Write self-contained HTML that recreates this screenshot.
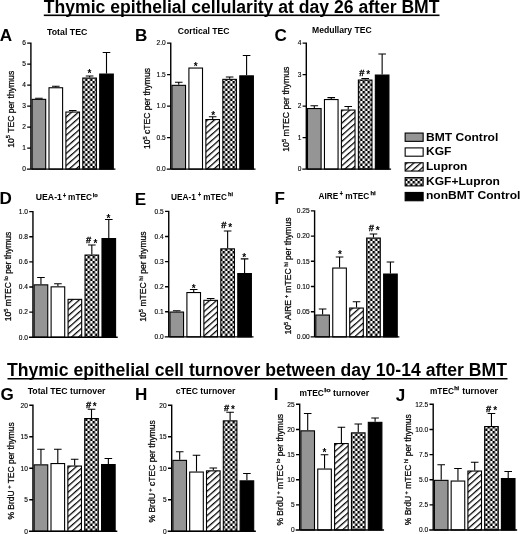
<!DOCTYPE html>
<html lang="en"><head><meta charset="utf-8"><title>Thymic epithelial cellularity and turnover after BMT</title>
<style>html,body{margin:0;padding:0;background:#fff;overflow:hidden}svg{display:block;filter:grayscale(1)}text{font-family:"Liberation Sans", sans-serif;fill:#000}</style>
</head><body>
<svg width="520" height="534" viewBox="0 0 520 534" role="img" aria-label="Bar charts of thymic epithelial cellularity and turnover after BMT">
<defs>
<pattern id="hatch" width="8" height="4.56" patternUnits="userSpaceOnUse" patternTransform="translate(0 4.2) rotate(-41.4)"><rect width="8" height="4.56" fill="#fff"/><rect y="0" width="8" height="1.25" fill="#000"/></pattern>
<pattern id="chk" x="82.5" y="101" width="5" height="5" patternUnits="userSpaceOnUse"><rect width="5" height="5" fill="#fff"/><rect width="2.5" height="2.5" fill="#000"/><rect x="2.5" y="2.5" width="2.5" height="2.5" fill="#000"/></pattern>
</defs>
<rect width="520" height="534" fill="#fff"/>
<g>
<text x="43.8" y="12.5" font-size="17.6" font-weight="bold" textLength="395.7" lengthAdjust="spacingAndGlyphs">Thymic epithelial cellularity at day 26 after BMT</text>
<rect x="43.8" y="14.5" width="395.7" height="1.6" fill="#000"/>
<text x="6.9" y="375.7" font-size="17.6" font-weight="bold" textLength="500" lengthAdjust="spacingAndGlyphs">Thymic epithelial cell turnover between day 10-14 after BMT</text>
<rect x="7.5" y="378" width="500" height="1.5" fill="#000"/>
<path d="M38.9 98.8 V98.2 M35.1 98.2 H42.7" stroke="#000" stroke-width="1.1" fill="none"/>
<rect x="32.1" y="99.35" width="13.6" height="69.75" fill="#959595" stroke="#000" stroke-width="1.1"/>
<path d="M55.8 87.2 V86.3 M52 86.3 H59.6" stroke="#000" stroke-width="1.1" fill="none"/>
<rect x="49" y="87.75" width="13.6" height="81.35" fill="#fff" stroke="#000" stroke-width="1.1"/>
<path d="M72.7 111.5 V110.5 M68.9 110.5 H76.5" stroke="#000" stroke-width="1.1" fill="none"/>
<rect x="65.9" y="112.05" width="13.6" height="57.05" fill="url(#hatch)" stroke="#000" stroke-width="1.1"/>
<path d="M89.6 77.5 V76 M85.8 76 H93.4" stroke="#000" stroke-width="1.1" fill="none"/>
<rect x="82.8" y="78.05" width="13.6" height="91.05" fill="url(#chk)" stroke="#000" stroke-width="1.1"/>
<path d="M106.5 73.5 V52.5 M102.7 52.5 H110.3" stroke="#000" stroke-width="1.1" fill="none"/>
<rect x="99.7" y="74.05" width="13.6" height="95.05" fill="#000" stroke="#000" stroke-width="1.1"/>
<path d="M30.9 42.4 V169.8 M26.9 169.1 H115.45 M27.2 169.1 H30.9 M27.2 148.1 H30.9 M27.2 127.1 H30.9 M27.2 106.1 H30.9 M27.2 85.1 H30.9 M27.2 64.1 H30.9 M27.2 43.1 H30.9" stroke="#000" stroke-width="1.4" fill="none"/>
<text x="25.9" y="171.45" font-size="6.6" text-anchor="end" stroke="#000" stroke-width="0.12">0</text>
<text x="25.9" y="150.45" font-size="6.6" text-anchor="end" stroke="#000" stroke-width="0.12">1</text>
<text x="25.9" y="129.45" font-size="6.6" text-anchor="end" stroke="#000" stroke-width="0.12">2</text>
<text x="25.9" y="108.45" font-size="6.6" text-anchor="end" stroke="#000" stroke-width="0.12">3</text>
<text x="25.9" y="87.45" font-size="6.6" text-anchor="end" stroke="#000" stroke-width="0.12">4</text>
<text x="25.9" y="66.45" font-size="6.6" text-anchor="end" stroke="#000" stroke-width="0.12">5</text>
<text x="25.9" y="45.45" font-size="6.6" text-anchor="end" stroke="#000" stroke-width="0.12">6</text>
<text x="-0.31" y="40.8" font-size="17.1" font-weight="bold">A</text>
<text x="47.07" y="35.1" font-size="8.6" font-weight="bold" textLength="40.26" lengthAdjust="spacingAndGlyphs">Total TEC</text>
<text transform="translate(13.5 147.8) rotate(-90)" font-size="9" stroke="#000" stroke-width="0.25" textLength="77" lengthAdjust="spacingAndGlyphs">10<tspan dy="-3.2" font-size="6">5</tspan><tspan dy="3.2"> TEC per thymus</tspan></text>
<text x="87.45" y="77.22" font-size="10" font-weight="bold">*</text>
<path d="M178.75 84.8 V82.3 M174.95 82.3 H182.55" stroke="#000" stroke-width="1.1" fill="none"/>
<rect x="171.95" y="85.35" width="13.6" height="83.75" fill="#959595" stroke="#000" stroke-width="1.1"/>
<rect x="188.91" y="68.05" width="13.6" height="101.05" fill="#fff" stroke="#000" stroke-width="1.1"/>
<path d="M212.67 119 V116.8 M208.87 116.8 H216.47" stroke="#000" stroke-width="1.1" fill="none"/>
<rect x="205.87" y="119.55" width="13.6" height="49.55" fill="url(#hatch)" stroke="#000" stroke-width="1.1"/>
<path d="M229.63 78.8 V77 M225.83 77 H233.43" stroke="#000" stroke-width="1.1" fill="none"/>
<rect x="222.83" y="79.35" width="13.6" height="89.75" fill="url(#chk)" stroke="#000" stroke-width="1.1"/>
<path d="M246.59 75.3 V55.5 M242.79 55.5 H250.39" stroke="#000" stroke-width="1.1" fill="none"/>
<rect x="239.79" y="75.85" width="13.6" height="93.25" fill="#000" stroke="#000" stroke-width="1.1"/>
<path d="M170.75 42.4 V169.8 M166.75 169.1 H255.54 M167.05 169.1 H170.75 M167.05 137.6 H170.75 M167.05 106.1 H170.75 M167.05 74.6 H170.75 M167.05 43.1 H170.75" stroke="#000" stroke-width="1.4" fill="none"/>
<text x="165.75" y="171.45" font-size="6.6" text-anchor="end" stroke="#000" stroke-width="0.12">0.0</text>
<text x="165.75" y="139.95" font-size="6.6" text-anchor="end" stroke="#000" stroke-width="0.12">0.5</text>
<text x="165.75" y="108.45" font-size="6.6" text-anchor="end" stroke="#000" stroke-width="0.12">1.0</text>
<text x="165.75" y="76.95" font-size="6.6" text-anchor="end" stroke="#000" stroke-width="0.12">1.5</text>
<text x="165.75" y="45.45" font-size="6.6" text-anchor="end" stroke="#000" stroke-width="0.12">2.0</text>
<text x="135.07" y="41" font-size="17.1" font-weight="bold">B</text>
<text x="177.87" y="33.9" font-size="8.6" font-weight="bold" textLength="51.56" lengthAdjust="spacingAndGlyphs">Cortical TEC</text>
<text transform="translate(150.2 148.9) rotate(-90)" font-size="9" stroke="#000" stroke-width="0.25" textLength="80.8" lengthAdjust="spacingAndGlyphs">10<tspan dy="-3.2" font-size="6">5</tspan><tspan dy="3.2"> cTEC per thymus</tspan></text>
<text x="193.8" y="69.92" font-size="10" font-weight="bold">*</text>
<text x="211.25" y="118.72" font-size="10" font-weight="bold">*</text>
<path d="M314.3 108 V105.8 M310.5 105.8 H318.1" stroke="#000" stroke-width="1.1" fill="none"/>
<rect x="307.5" y="108.55" width="13.6" height="60.55" fill="#959595" stroke="#000" stroke-width="1.1"/>
<path d="M331.26 99 V97.6 M327.46 97.6 H335.06" stroke="#000" stroke-width="1.1" fill="none"/>
<rect x="324.46" y="99.55" width="13.6" height="69.55" fill="#fff" stroke="#000" stroke-width="1.1"/>
<path d="M348.22 109.5 V106.5 M344.42 106.5 H352.02" stroke="#000" stroke-width="1.1" fill="none"/>
<rect x="341.42" y="110.05" width="13.6" height="59.05" fill="url(#hatch)" stroke="#000" stroke-width="1.1"/>
<path d="M365.18 79.5 V78.5 M361.38 78.5 H368.98" stroke="#000" stroke-width="1.1" fill="none"/>
<rect x="358.38" y="80.05" width="13.6" height="89.05" fill="url(#chk)" stroke="#000" stroke-width="1.1"/>
<path d="M382.14 74.5 V54 M378.34 54 H385.94" stroke="#000" stroke-width="1.1" fill="none"/>
<rect x="375.34" y="75.05" width="13.6" height="94.05" fill="#000" stroke="#000" stroke-width="1.1"/>
<path d="M306.3 42.4 V169.8 M302.3 169.1 H391.09 M302.6 169.1 H306.3 M302.6 137.6 H306.3 M302.6 106.1 H306.3 M302.6 74.6 H306.3 M302.6 43.1 H306.3" stroke="#000" stroke-width="1.4" fill="none"/>
<text x="301.3" y="171.45" font-size="6.6" text-anchor="end" stroke="#000" stroke-width="0.12">0</text>
<text x="301.3" y="139.95" font-size="6.6" text-anchor="end" stroke="#000" stroke-width="0.12">1</text>
<text x="301.3" y="108.45" font-size="6.6" text-anchor="end" stroke="#000" stroke-width="0.12">2</text>
<text x="301.3" y="76.95" font-size="6.6" text-anchor="end" stroke="#000" stroke-width="0.12">3</text>
<text x="301.3" y="45.45" font-size="6.6" text-anchor="end" stroke="#000" stroke-width="0.12">4</text>
<text x="274.6" y="40.7" font-size="17.1" font-weight="bold">C</text>
<text x="311.97" y="33.2" font-size="8.6" font-weight="bold" textLength="59.76" lengthAdjust="spacingAndGlyphs">Medullary TEC</text>
<text transform="translate(289.3 151.7) rotate(-90)" font-size="9" stroke="#000" stroke-width="0.25" textLength="85" lengthAdjust="spacingAndGlyphs">10<tspan dy="-3.2" font-size="6">5</tspan><tspan dy="3.2"> mTEC per thymus</tspan></text>
<text x="359.33" y="75.6" font-size="9.4" font-weight="bold" stroke="#000" stroke-width="0.3">#</text>
<text x="366.25" y="78.12" font-size="10" font-weight="bold">*</text>
<path d="M40.95 284.3 V277.5 M37.15 277.5 H44.75" stroke="#000" stroke-width="1.1" fill="none"/>
<rect x="34.15" y="284.85" width="13.6" height="52.35" fill="#959595" stroke="#000" stroke-width="1.1"/>
<path d="M57.91 286.3 V283.8 M54.11 283.8 H61.71" stroke="#000" stroke-width="1.1" fill="none"/>
<rect x="51.11" y="286.85" width="13.6" height="50.35" fill="#fff" stroke="#000" stroke-width="1.1"/>
<rect x="68.07" y="299.35" width="13.6" height="37.85" fill="url(#hatch)" stroke="#000" stroke-width="1.1"/>
<path d="M91.83 254.5 V245 M88.03 245 H95.63" stroke="#000" stroke-width="1.1" fill="none"/>
<rect x="85.03" y="255.05" width="13.6" height="82.15" fill="url(#chk)" stroke="#000" stroke-width="1.1"/>
<path d="M108.79 238 V219.5 M104.99 219.5 H112.59" stroke="#000" stroke-width="1.1" fill="none"/>
<rect x="101.99" y="238.55" width="13.6" height="98.65" fill="#000" stroke="#000" stroke-width="1.1"/>
<path d="M32.95 210.9 V337.9 M28.95 337.2 H117.74 M29.25 337.2 H32.95 M29.25 312.08 H32.95 M29.25 286.96 H32.95 M29.25 261.84 H32.95 M29.25 236.72 H32.95 M29.25 211.6 H32.95" stroke="#000" stroke-width="1.4" fill="none"/>
<text x="27.95" y="339.55" font-size="6.6" text-anchor="end" stroke="#000" stroke-width="0.12">0.0</text>
<text x="27.95" y="314.43" font-size="6.6" text-anchor="end" stroke="#000" stroke-width="0.12">0.2</text>
<text x="27.95" y="289.31" font-size="6.6" text-anchor="end" stroke="#000" stroke-width="0.12">0.4</text>
<text x="27.95" y="264.19" font-size="6.6" text-anchor="end" stroke="#000" stroke-width="0.12">0.6</text>
<text x="27.95" y="239.07" font-size="6.6" text-anchor="end" stroke="#000" stroke-width="0.12">0.8</text>
<text x="27.95" y="213.95" font-size="6.6" text-anchor="end" stroke="#000" stroke-width="0.12">1.0</text>
<text x="-0.43" y="203.9" font-size="17.1" font-weight="bold">D</text>
<text x="35.77" y="200.3" font-size="8.6" font-weight="bold" textLength="26.16" lengthAdjust="spacingAndGlyphs">UEA-1</text>
<text x="63.08" y="197.7" font-size="6.4" font-weight="bold" stroke="#000" stroke-width="0.25" textLength="3.04" lengthAdjust="spacingAndGlyphs">+</text>
<text x="68.07" y="200.3" font-size="8.6" font-weight="bold" textLength="23.86" lengthAdjust="spacingAndGlyphs">mTEC</text>
<text x="92.69" y="196.5" font-size="6.2" font-weight="bold" stroke="#000" stroke-width="0.25" textLength="5.02" lengthAdjust="spacingAndGlyphs">lo</text>
<text transform="translate(10.7 321.2) rotate(-90)" font-size="9" stroke="#000" stroke-width="0.25" textLength="89.4" lengthAdjust="spacingAndGlyphs">10<tspan dy="-3.2" font-size="6">5</tspan><tspan dy="3.2"> mTEC</tspan><tspan dy="-3.2" font-size="6"> lo</tspan><tspan dy="3.2"> per thymus</tspan></text>
<text x="86.08" y="243.2" font-size="9.4" font-weight="bold" stroke="#000" stroke-width="0.3">#</text>
<text x="93.45" y="246.72" font-size="10" font-weight="bold">*</text>
<text x="106.55" y="222.22" font-size="10" font-weight="bold">*</text>
<path d="M176.75 311.5 V310.8 M172.95 310.8 H180.55" stroke="#000" stroke-width="1.1" fill="none"/>
<rect x="169.95" y="312.05" width="13.6" height="24.85" fill="#959595" stroke="#000" stroke-width="1.1"/>
<path d="M193.71 292 V289.5 M189.91 289.5 H197.51" stroke="#000" stroke-width="1.1" fill="none"/>
<rect x="186.91" y="292.55" width="13.6" height="44.35" fill="#fff" stroke="#000" stroke-width="1.1"/>
<path d="M210.67 299.8 V298.5 M206.87 298.5 H214.47" stroke="#000" stroke-width="1.1" fill="none"/>
<rect x="203.87" y="300.35" width="13.6" height="36.55" fill="url(#hatch)" stroke="#000" stroke-width="1.1"/>
<path d="M227.63 248.3 V231 M223.83 231 H231.43" stroke="#000" stroke-width="1.1" fill="none"/>
<rect x="220.83" y="248.85" width="13.6" height="88.05" fill="url(#chk)" stroke="#000" stroke-width="1.1"/>
<path d="M244.59 273 V258.9 M240.79 258.9 H248.39" stroke="#000" stroke-width="1.1" fill="none"/>
<rect x="237.79" y="273.55" width="13.6" height="63.35" fill="#000" stroke="#000" stroke-width="1.1"/>
<path d="M168.75 210.7 V337.6 M164.75 336.9 H253.54 M165.05 336.9 H168.75 M165.05 311.8 H168.75 M165.05 286.7 H168.75 M165.05 261.6 H168.75 M165.05 236.5 H168.75 M165.05 211.4 H168.75" stroke="#000" stroke-width="1.4" fill="none"/>
<text x="163.75" y="339.25" font-size="6.6" text-anchor="end" stroke="#000" stroke-width="0.12">0.0</text>
<text x="163.75" y="314.15" font-size="6.6" text-anchor="end" stroke="#000" stroke-width="0.12">0.1</text>
<text x="163.75" y="289.05" font-size="6.6" text-anchor="end" stroke="#000" stroke-width="0.12">0.2</text>
<text x="163.75" y="263.95" font-size="6.6" text-anchor="end" stroke="#000" stroke-width="0.12">0.3</text>
<text x="163.75" y="238.85" font-size="6.6" text-anchor="end" stroke="#000" stroke-width="0.12">0.4</text>
<text x="163.75" y="213.75" font-size="6.6" text-anchor="end" stroke="#000" stroke-width="0.12">0.5</text>
<text x="134.67" y="204.9" font-size="17.1" font-weight="bold">E</text>
<text x="171.07" y="199.5" font-size="8.6" font-weight="bold" textLength="24.86" lengthAdjust="spacingAndGlyphs">UEA-1</text>
<text x="198.08" y="196.9" font-size="6.4" font-weight="bold" stroke="#000" stroke-width="0.25" textLength="3.04" lengthAdjust="spacingAndGlyphs">+</text>
<text x="203.37" y="199.5" font-size="8.6" font-weight="bold" textLength="23.56" lengthAdjust="spacingAndGlyphs">mTEC</text>
<text x="228.09" y="195.7" font-size="6.2" font-weight="bold" stroke="#000" stroke-width="0.25" textLength="4.92" lengthAdjust="spacingAndGlyphs">hi</text>
<text transform="translate(146.4 321.7) rotate(-90)" font-size="9" stroke="#000" stroke-width="0.25" textLength="90.3" lengthAdjust="spacingAndGlyphs">10<tspan dy="-3.2" font-size="6">5</tspan><tspan dy="3.2"> mTEC</tspan><tspan dy="-3.2" font-size="6"> hi</tspan><tspan dy="3.2"> per thymus</tspan></text>
<text x="191.85" y="291.62" font-size="10" font-weight="bold">*</text>
<text x="221.18" y="228" font-size="9.4" font-weight="bold" stroke="#000" stroke-width="0.3">#</text>
<text x="228.25" y="230.82" font-size="10" font-weight="bold">*</text>
<text x="242.35" y="261.12" font-size="10" font-weight="bold">*</text>
<path d="M322.6 314.5 V309 M318.8 309 H326.4" stroke="#000" stroke-width="1.1" fill="none"/>
<rect x="315.8" y="315.05" width="13.6" height="21.85" fill="#959595" stroke="#000" stroke-width="1.1"/>
<path d="M339.56 267.5 V257 M335.76 257 H343.36" stroke="#000" stroke-width="1.1" fill="none"/>
<rect x="332.76" y="268.05" width="13.6" height="68.85" fill="#fff" stroke="#000" stroke-width="1.1"/>
<path d="M356.52 307.5 V301.8 M352.72 301.8 H360.32" stroke="#000" stroke-width="1.1" fill="none"/>
<rect x="349.72" y="308.05" width="13.6" height="28.85" fill="url(#hatch)" stroke="#000" stroke-width="1.1"/>
<path d="M373.48 237.5 V234 M369.68 234 H377.28" stroke="#000" stroke-width="1.1" fill="none"/>
<rect x="366.68" y="238.05" width="13.6" height="98.85" fill="url(#chk)" stroke="#000" stroke-width="1.1"/>
<path d="M390.44 273.5 V262 M386.64 262 H394.24" stroke="#000" stroke-width="1.1" fill="none"/>
<rect x="383.64" y="274.05" width="13.6" height="62.85" fill="#000" stroke="#000" stroke-width="1.1"/>
<path d="M314.6 210.2 V337.6 M310.6 336.9 H399.39 M310.9 336.9 H314.6 M310.9 311.7 H314.6 M310.9 286.5 H314.6 M310.9 261.3 H314.6 M310.9 236.1 H314.6 M310.9 210.9 H314.6" stroke="#000" stroke-width="1.4" fill="none"/>
<text x="309.6" y="339.25" font-size="6.6" text-anchor="end" stroke="#000" stroke-width="0.12">0.00</text>
<text x="309.6" y="314.05" font-size="6.6" text-anchor="end" stroke="#000" stroke-width="0.12">0.05</text>
<text x="309.6" y="288.85" font-size="6.6" text-anchor="end" stroke="#000" stroke-width="0.12">0.10</text>
<text x="309.6" y="263.65" font-size="6.6" text-anchor="end" stroke="#000" stroke-width="0.12">0.15</text>
<text x="309.6" y="238.45" font-size="6.6" text-anchor="end" stroke="#000" stroke-width="0.12">0.20</text>
<text x="309.6" y="213.25" font-size="6.6" text-anchor="end" stroke="#000" stroke-width="0.12">0.25</text>
<text x="274.57" y="203.6" font-size="17.1" font-weight="bold">F</text>
<text x="318.47" y="198.6" font-size="8.6" font-weight="bold" textLength="19.66" lengthAdjust="spacingAndGlyphs">AIRE</text>
<text x="339.78" y="196" font-size="6.4" font-weight="bold" stroke="#000" stroke-width="0.25" textLength="3.04" lengthAdjust="spacingAndGlyphs">+</text>
<text x="345.27" y="198.6" font-size="8.6" font-weight="bold" textLength="23.96" lengthAdjust="spacingAndGlyphs">mTEC</text>
<text x="370.49" y="194.8" font-size="6.2" font-weight="bold" stroke="#000" stroke-width="0.25" textLength="5.22" lengthAdjust="spacingAndGlyphs">hi</text>
<text transform="translate(291.3 334.6) rotate(-90)" font-size="9" stroke="#000" stroke-width="0.25" textLength="117.1" lengthAdjust="spacingAndGlyphs">10<tspan dy="-3.2" font-size="6">5</tspan><tspan dy="3.2"> AIRE</tspan><tspan dy="-3.2" font-size="6"> +</tspan><tspan dy="3.2"> mTEC</tspan><tspan dy="-3.2" font-size="6"> hi</tspan><tspan dy="3.2"> per thymus</tspan></text>
<text x="337.95" y="258.42" font-size="10" font-weight="bold">*</text>
<text x="368.68" y="231.3" font-size="9.4" font-weight="bold" stroke="#000" stroke-width="0.3">#</text>
<text x="375.65" y="234.12" font-size="10" font-weight="bold">*</text>
<path d="M40.95 464.3 V449.3 M37.15 449.3 H44.75" stroke="#000" stroke-width="1.1" fill="none"/>
<rect x="34.15" y="464.85" width="13.6" height="66.45" fill="#959595" stroke="#000" stroke-width="1.1"/>
<path d="M57.8 463 V449.3 M54 449.3 H61.6" stroke="#000" stroke-width="1.1" fill="none"/>
<rect x="51" y="463.55" width="13.6" height="67.75" fill="#fff" stroke="#000" stroke-width="1.1"/>
<path d="M74.65 465.5 V459.3 M70.85 459.3 H78.45" stroke="#000" stroke-width="1.1" fill="none"/>
<rect x="67.85" y="466.05" width="13.6" height="65.25" fill="url(#hatch)" stroke="#000" stroke-width="1.1"/>
<path d="M91.5 418 V409.3 M87.7 409.3 H95.3" stroke="#000" stroke-width="1.1" fill="none"/>
<rect x="84.7" y="418.55" width="13.6" height="112.75" fill="url(#chk)" stroke="#000" stroke-width="1.1"/>
<path d="M108.35 464 V458.5 M104.55 458.5 H112.15" stroke="#000" stroke-width="1.1" fill="none"/>
<rect x="101.55" y="464.55" width="13.6" height="66.75" fill="#000" stroke="#000" stroke-width="1.1"/>
<path d="M32.95 404.5 V532 M28.95 531.3 H117.3 M29.25 531.3 H32.95 M29.25 499.77 H32.95 M29.25 468.25 H32.95 M29.25 436.72 H32.95 M29.25 405.2 H32.95" stroke="#000" stroke-width="1.4" fill="none"/>
<text x="27.95" y="533.65" font-size="6.6" text-anchor="end" stroke="#000" stroke-width="0.12">0</text>
<text x="27.95" y="502.12" font-size="6.6" text-anchor="end" stroke="#000" stroke-width="0.12">5</text>
<text x="27.95" y="470.6" font-size="6.6" text-anchor="end" stroke="#000" stroke-width="0.12">10</text>
<text x="27.95" y="439.07" font-size="6.6" text-anchor="end" stroke="#000" stroke-width="0.12">15</text>
<text x="27.95" y="407.55" font-size="6.6" text-anchor="end" stroke="#000" stroke-width="0.12">20</text>
<text x="0.6" y="400.1" font-size="17.1" font-weight="bold">G</text>
<text x="27.67" y="394.3" font-size="8.6" font-weight="bold" textLength="77.76" lengthAdjust="spacingAndGlyphs">Total TEC turnover</text>
<text transform="translate(14.2 519.5) rotate(-90)" font-size="9" stroke="#000" stroke-width="0.25" textLength="97.3" lengthAdjust="spacingAndGlyphs">% BrdU<tspan dy="-3.2" font-size="6"> +</tspan><tspan dy="3.2"> TEC per thymus</tspan></text>
<text x="85.88" y="407.5" font-size="9.4" font-weight="bold" stroke="#000" stroke-width="0.3">#</text>
<text x="92.85" y="410.12" font-size="10" font-weight="bold">*</text>
<path d="M179.7 459.8 V451.8 M175.9 451.8 H183.5" stroke="#000" stroke-width="1.1" fill="none"/>
<rect x="172.9" y="460.35" width="13.6" height="70.95" fill="#959595" stroke="#000" stroke-width="1.1"/>
<path d="M196.5 471.5 V455.3 M192.7 455.3 H200.3" stroke="#000" stroke-width="1.1" fill="none"/>
<rect x="189.7" y="472.05" width="13.6" height="59.25" fill="#fff" stroke="#000" stroke-width="1.1"/>
<path d="M213.3 470.3 V468 M209.5 468 H217.1" stroke="#000" stroke-width="1.1" fill="none"/>
<rect x="206.5" y="470.85" width="13.6" height="60.45" fill="url(#hatch)" stroke="#000" stroke-width="1.1"/>
<path d="M230.1 420.3 V412.3 M226.3 412.3 H233.9" stroke="#000" stroke-width="1.1" fill="none"/>
<rect x="223.3" y="420.85" width="13.6" height="110.45" fill="url(#chk)" stroke="#000" stroke-width="1.1"/>
<path d="M246.9 480.3 V473.5 M243.1 473.5 H250.7" stroke="#000" stroke-width="1.1" fill="none"/>
<rect x="240.1" y="480.85" width="13.6" height="50.45" fill="#000" stroke="#000" stroke-width="1.1"/>
<path d="M171.7 404.5 V532 M167.7 531.3 H255.85 M168 531.3 H171.7 M168 499.77 H171.7 M168 468.25 H171.7 M168 436.72 H171.7 M168 405.2 H171.7" stroke="#000" stroke-width="1.4" fill="none"/>
<text x="166.7" y="533.65" font-size="6.6" text-anchor="end" stroke="#000" stroke-width="0.12">0</text>
<text x="166.7" y="502.12" font-size="6.6" text-anchor="end" stroke="#000" stroke-width="0.12">5</text>
<text x="166.7" y="470.6" font-size="6.6" text-anchor="end" stroke="#000" stroke-width="0.12">10</text>
<text x="166.7" y="439.07" font-size="6.6" text-anchor="end" stroke="#000" stroke-width="0.12">15</text>
<text x="166.7" y="407.55" font-size="6.6" text-anchor="end" stroke="#000" stroke-width="0.12">20</text>
<text x="135.07" y="400.3" font-size="17.1" font-weight="bold">H</text>
<text x="175.87" y="394.3" font-size="8.6" font-weight="bold" textLength="59.56" lengthAdjust="spacingAndGlyphs">cTEC turnover</text>
<text transform="translate(155 522.5) rotate(-90)" font-size="9" stroke="#000" stroke-width="0.25" textLength="102.2" lengthAdjust="spacingAndGlyphs">% BrdU<tspan dy="-3.2" font-size="6"> +</tspan><tspan dy="3.2"> cTEC per thymus</tspan></text>
<text x="223.98" y="411.3" font-size="9.4" font-weight="bold" stroke="#000" stroke-width="0.3">#</text>
<text x="231.05" y="413.22" font-size="10" font-weight="bold">*</text>
<path d="M307.7 430.3 V413.5 M303.9 413.5 H311.5" stroke="#000" stroke-width="1.1" fill="none"/>
<rect x="300.9" y="430.85" width="13.6" height="99.15" fill="#959595" stroke="#000" stroke-width="1.1"/>
<path d="M324.55 468.5 V454.8 M320.75 454.8 H328.35" stroke="#000" stroke-width="1.1" fill="none"/>
<rect x="317.75" y="469.05" width="13.6" height="60.95" fill="#fff" stroke="#000" stroke-width="1.1"/>
<path d="M341.4 443 V427.3 M337.6 427.3 H345.2" stroke="#000" stroke-width="1.1" fill="none"/>
<rect x="334.6" y="443.55" width="13.6" height="86.45" fill="url(#hatch)" stroke="#000" stroke-width="1.1"/>
<path d="M358.25 432.3 V424 M354.45 424 H362.05" stroke="#000" stroke-width="1.1" fill="none"/>
<rect x="351.45" y="432.85" width="13.6" height="97.15" fill="url(#chk)" stroke="#000" stroke-width="1.1"/>
<path d="M375.1 421.8 V418 M371.3 418 H378.9" stroke="#000" stroke-width="1.1" fill="none"/>
<rect x="368.3" y="422.35" width="13.6" height="107.65" fill="#000" stroke="#000" stroke-width="1.1"/>
<path d="M299.7 403.6 V530.7 M295.7 530 H384.05 M296 530 H299.7 M296 504.86 H299.7 M296 479.72 H299.7 M296 454.58 H299.7 M296 429.44 H299.7 M296 404.3 H299.7" stroke="#000" stroke-width="1.4" fill="none"/>
<text x="294.7" y="532.35" font-size="6.6" text-anchor="end" stroke="#000" stroke-width="0.12">0</text>
<text x="294.7" y="507.21" font-size="6.6" text-anchor="end" stroke="#000" stroke-width="0.12">5</text>
<text x="294.7" y="482.07" font-size="6.6" text-anchor="end" stroke="#000" stroke-width="0.12">10</text>
<text x="294.7" y="456.93" font-size="6.6" text-anchor="end" stroke="#000" stroke-width="0.12">15</text>
<text x="294.7" y="431.79" font-size="6.6" text-anchor="end" stroke="#000" stroke-width="0.12">20</text>
<text x="294.7" y="406.65" font-size="6.6" text-anchor="end" stroke="#000" stroke-width="0.12">25</text>
<text x="273.67" y="400" font-size="17.1" font-weight="bold">I</text>
<text x="299.57" y="395.8" font-size="8.6" font-weight="bold" textLength="24.36" lengthAdjust="spacingAndGlyphs">mTEC</text>
<text x="324.29" y="392.3" font-size="6.2" font-weight="bold" stroke="#000" stroke-width="0.25" textLength="6.32" lengthAdjust="spacingAndGlyphs">lo</text>
<text x="332.97" y="395.8" font-size="8.6" font-weight="bold" textLength="36.26" lengthAdjust="spacingAndGlyphs">turnover</text>
<text transform="translate(283.3 525.6) rotate(-90)" font-size="9" stroke="#000" stroke-width="0.25" textLength="111.6" lengthAdjust="spacingAndGlyphs">% BrdU<tspan dy="-3.2" font-size="6"> +</tspan><tspan dy="3.2"> mTEC</tspan><tspan dy="-3.2" font-size="6"> lo</tspan><tspan dy="3.2"> per thymus</tspan></text>
<text x="322.55" y="455.82" font-size="10" font-weight="bold">*</text>
<path d="M441.2 479.8 V464.8 M437.4 464.8 H445" stroke="#000" stroke-width="1.1" fill="none"/>
<rect x="434.4" y="480.35" width="13.6" height="49.65" fill="#959595" stroke="#000" stroke-width="1.1"/>
<path d="M457.95 480.5 V468.5 M454.15 468.5 H461.75" stroke="#000" stroke-width="1.1" fill="none"/>
<rect x="451.15" y="481.05" width="13.6" height="48.95" fill="#fff" stroke="#000" stroke-width="1.1"/>
<path d="M474.7 470.5 V462.3 M470.9 462.3 H478.5" stroke="#000" stroke-width="1.1" fill="none"/>
<rect x="467.9" y="471.05" width="13.6" height="58.95" fill="url(#hatch)" stroke="#000" stroke-width="1.1"/>
<path d="M491.45 426 V413.5 M487.65 413.5 H495.25" stroke="#000" stroke-width="1.1" fill="none"/>
<rect x="484.65" y="426.55" width="13.6" height="103.45" fill="url(#chk)" stroke="#000" stroke-width="1.1"/>
<path d="M508.2 478 V471.5 M504.4 471.5 H512" stroke="#000" stroke-width="1.1" fill="none"/>
<rect x="501.4" y="478.55" width="13.6" height="51.45" fill="#000" stroke="#000" stroke-width="1.1"/>
<path d="M433.2 403.6 V530.7 M429.2 530 H517.15 M429.5 530 H433.2 M429.5 504.86 H433.2 M429.5 479.72 H433.2 M429.5 454.58 H433.2 M429.5 429.44 H433.2 M429.5 404.3 H433.2" stroke="#000" stroke-width="1.4" fill="none"/>
<text x="428.2" y="532.35" font-size="6.6" text-anchor="end" stroke="#000" stroke-width="0.12">0.0</text>
<text x="428.2" y="507.21" font-size="6.6" text-anchor="end" stroke="#000" stroke-width="0.12">2.5</text>
<text x="428.2" y="482.07" font-size="6.6" text-anchor="end" stroke="#000" stroke-width="0.12">5.0</text>
<text x="428.2" y="456.93" font-size="6.6" text-anchor="end" stroke="#000" stroke-width="0.12">7.5</text>
<text x="428.2" y="431.79" font-size="6.6" text-anchor="end" stroke="#000" stroke-width="0.12">10.0</text>
<text x="428.2" y="406.65" font-size="6.6" text-anchor="end" stroke="#000" stroke-width="0.12">12.5</text>
<text x="395.84" y="400.8" font-size="17.1" font-weight="bold">J</text>
<text x="429.97" y="393.5" font-size="8.6" font-weight="bold" textLength="23.96" lengthAdjust="spacingAndGlyphs">mTEC</text>
<text x="454.2" y="390" font-size="6.0" font-weight="bold" stroke="#000" stroke-width="0.25" textLength="4.9" lengthAdjust="spacingAndGlyphs">hi</text>
<text x="462.27" y="393.5" font-size="8.6" font-weight="bold" textLength="35.76" lengthAdjust="spacingAndGlyphs">turnover</text>
<text transform="translate(411.2 525.2) rotate(-90)" font-size="9" stroke="#000" stroke-width="0.25" textLength="110.9" lengthAdjust="spacingAndGlyphs">% BrdU<tspan dy="-3.2" font-size="6"> +</tspan><tspan dy="3.2"> mTEC</tspan><tspan dy="-3.2" font-size="6"> hi</tspan><tspan dy="3.2"> per thymus</tspan></text>
<text x="485.88" y="411.7" font-size="9.4" font-weight="bold" stroke="#000" stroke-width="0.3">#</text>
<text x="493.25" y="414.22" font-size="10" font-weight="bold">*</text>
<rect x="405.15" y="133.05" width="18" height="8.3" fill="#959595" stroke="#000" stroke-width="1.1"/>
<text x="426.0" y="140.6" font-size="11.4" font-weight="bold" textLength="72.28" lengthAdjust="spacingAndGlyphs">BMT Control</text>
<rect x="405.15" y="147.9" width="18" height="8.3" fill="#fff" stroke="#000" stroke-width="1.1"/>
<text x="426.0" y="155.32" font-size="11.4" font-weight="bold" textLength="25.44" lengthAdjust="spacingAndGlyphs">KGF</text>
<rect x="405.15" y="162.75" width="18" height="8.3" fill="url(#hatch)" stroke="#000" stroke-width="1.1"/>
<text x="426.0" y="170.04" font-size="11.4" font-weight="bold" textLength="41.49" lengthAdjust="spacingAndGlyphs">Lupron</text>
<rect x="405.15" y="177.6" width="18" height="8.3" fill="url(#chk)" stroke="#000" stroke-width="1.1"/>
<text x="426.0" y="184.76" font-size="11.4" font-weight="bold" textLength="73.96" lengthAdjust="spacingAndGlyphs">KGF+Lupron</text>
<rect x="405.15" y="192.45" width="18" height="8.3" fill="#000" stroke="#000" stroke-width="1.1"/>
<text x="426.0" y="199.48" font-size="11.4" font-weight="bold" textLength="94.36" lengthAdjust="spacingAndGlyphs">nonBMT Control</text>
</g></svg></body></html>
